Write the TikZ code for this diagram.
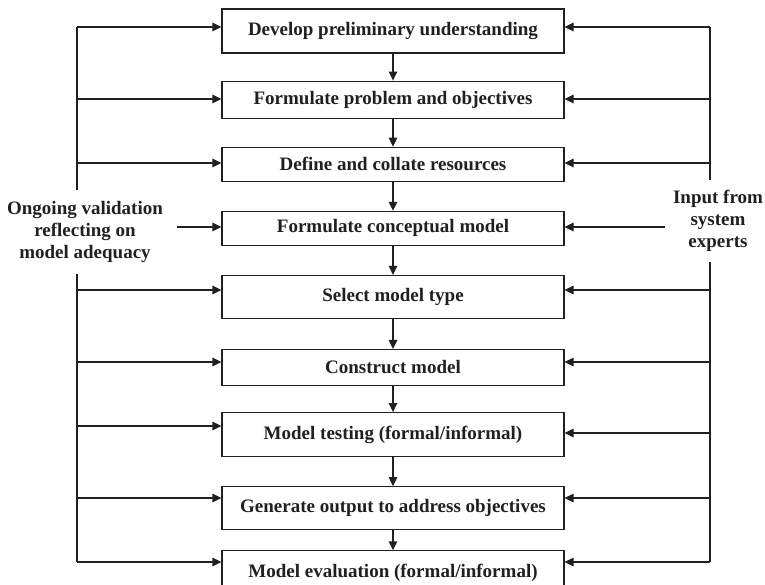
\documentclass[tikz,border=0pt]{standalone}
\usepackage{fontspec}
\setmainfont{Liberation Serif}
\usepackage{tikz}
\usetikzlibrary{arrows.meta, positioning}
\definecolor{ink}{HTML}{231F20}

\begin{document}
\begin{tikzpicture}[
  x=1pt, y=-1pt,
  line width=1.1pt, draw=ink,
  stage/.style={rectangle, draw=ink, line width=1.1pt, fill=white,
                minimum width=342pt, inner sep=0pt, align=center,
                font=\bfseries\fontsize{19}{22}\selectfont, text=ink},
  side/.style={align=center, inner sep=0pt,
               font=\bfseries\fontsize{19}{22}\selectfont, text=ink},
  arr/.style={-{Triangle[length=9pt, width=8.5pt]}, draw=ink, line width=1.1pt},
]
\useasboundingbox (0,0) rectangle (765,584);

\node[stage, minimum height=44pt] (b1) at (393,31) {Develop preliminary understanding};
\node[stage, minimum height=37pt, below=27pt of b1] (b2) {Formulate problem and objectives};
\node[stage, minimum height=34pt, below=28pt of b2] (b3) {Define and collate resources};
\node[stage, minimum height=34pt, below=29pt of b3] (b4) {Formulate conceptual model};
\node[stage, minimum height=43pt, below=29pt of b4] (b5) {Select model type};
\node[stage, minimum height=36pt, below=30pt of b5] (b6) {Construct model};
\node[stage, minimum height=44pt, below=26pt of b6] (b7) {Model testing (formal/informal)};
\node[stage, minimum height=43pt, below=29pt of b7] (b8) {Generate output to address objectives};
\node[stage, minimum height=44pt, below=20pt of b8] (b9) {Model evaluation (formal/informal)};

\node[side] (valid) at (85,232) {Ongoing validation\\reflecting on\\model adequacy};
\node[side] (expert) at (718,221) {Input from\\system\\experts};

\coordinate (lbar) at (77,0);
\coordinate (rbar) at (710,0);

\foreach \a/\b in {b1/b2, b2/b3, b3/b4, b4/b5, b5/b6, b6/b7, b7/b8, b8/b9}
  \draw[arr] (\a) -- (\b);

% validation side
\draw (lbar |- 0,27) -- (lbar |- 0,190);
\draw (lbar |- 0,274) -- (lbar |- 0,562);
\foreach \n/\y in {b1/27, b2/99, b3/163, b5/290, b6/362, b7/426, b8/498, b9/562}
  \draw[arr] (lbar |- 0,\y) -- (\n.west |- 0,\y);
\draw[arr] (177,227) -- (b4.west |- 0,227);

% expert side
\draw (rbar |- 0,27) -- (rbar |- 0,180);
\draw (rbar |- 0,262) -- (rbar |- 0,562);
\foreach \n/\y in {b1/27, b2/99, b3/163, b5/290, b6/362, b7/433, b8/498, b9/562}
  \draw[arr] (rbar |- 0,\y) -- (\n.east |- 0,\y);
\draw[arr] (665,227) -- (b4.east |- 0,227);
\end{tikzpicture}
\end{document}
